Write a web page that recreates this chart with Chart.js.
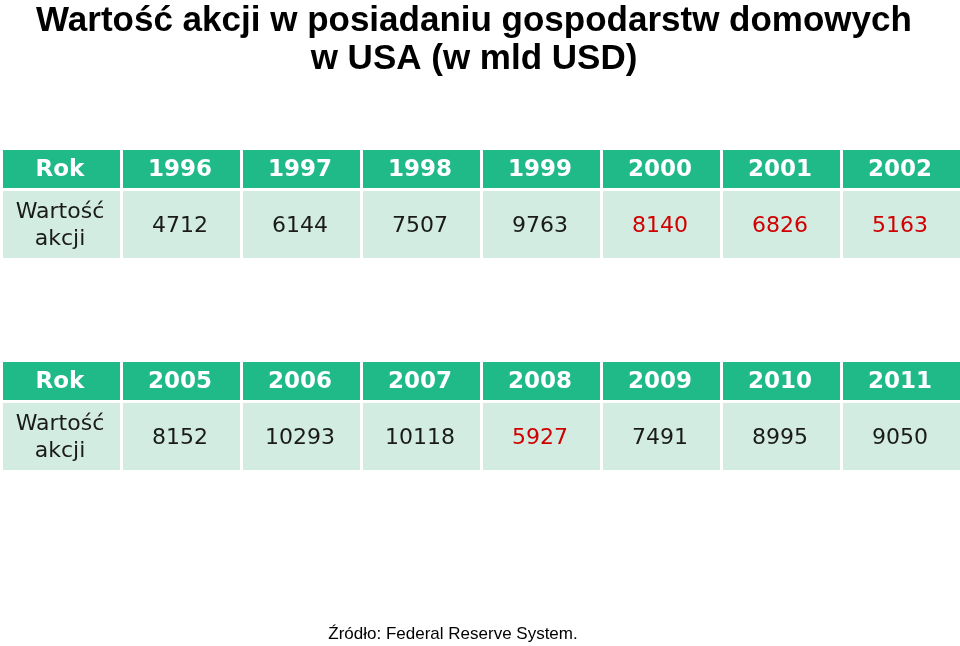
<!DOCTYPE html>
<html><head><meta charset="utf-8">
<script src="https://cdn.jsdelivr.net/npm/chart.js@4"></script>
<style>html,body{margin:0;padding:0;background:#fff}#wrap{width:960px;height:646px}</style>
</head><body><div id="wrap"><canvas id="c"></canvas></div>
<script>
const columns = ['h', 'c1', 'c2', 'c3', 'c4', 'c5', 'c6', 'c7'];
const years1 = ['1996', '1997', '1998', '1999', '2000', '2001', '2002'];
const values1 = [4712, 6144, 7507, 9763, 8140, 6826, 5163];
const red1 = [false, false, false, false, true, true, true];
const years2 = ['2005', '2006', '2007', '2008', '2009', '2010', '2011'];
const values2 = [8152, 10293, 10118, 5927, 7491, 8995, 9050];
const red2 = [false, false, false, true, false, false, false];
const rowLabel = 'Rok';
const valueLabel = ['Wartość', 'akcji'];

// draws the two tables on the category x scale (one column per category)
const tablePlugin = {
  id: 'table',
  afterDraw(chart) {
    const ctx = chart.ctx;
    const x = chart.scales.x;
    const w = 120;
    function table(top, years, values, red) {
      columns.forEach((c, i) => {
        const cx = x.getPixelForValue(i);
        ctx.fillStyle = '#1fba88';
        ctx.fillRect(cx - w / 2 + 3, top, w - 3, 38);
        ctx.fillStyle = '#d2ece1';
        ctx.fillRect(cx - w / 2 + 3, top + 41, w - 3, 67);
        ctx.textAlign = 'center';
        ctx.textBaseline = 'middle';
        ctx.fillStyle = '#ffffff';
        ctx.font = 'bold 23px "DejaVu Sans"';
        ctx.fillText(i === 0 ? rowLabel : years[i - 1], cx, top + 20);
        ctx.fillStyle = '#1a1a1a';
        ctx.font = '22px "DejaVu Sans"';
        if (i === 0) {
          ctx.fillText(valueLabel[0], cx, top + 62);
          ctx.fillText(valueLabel[1], cx, top + 89);
        } else {
          ctx.fillStyle = red[i - 1] ? '#d00000' : '#1a1a1a';
          ctx.fillText(String(values[i - 1]), cx, top + 76);
        }
      });
    }
    table(150, years1, values1, red1);
    table(362, years2, values2, red2);
    ctx.fillStyle = '#000';
    ctx.font = 'bold 35px "Liberation Sans"';
    ctx.fillText('Wartość akcji w posiadaniu gospodarstw domowych', 474, 21);
    ctx.fillText('w USA (w mld USD)', 474, 59);
    ctx.font = '17px "Liberation Sans"';
    ctx.fillText('Źródło: Federal Reserve System.', 453, 634);
  }
};

new Chart(document.getElementById('c'), {
  type: 'bar',
  data: { labels: columns, datasets: [{ data: columns.map(() => null) }] },
  options: {
    responsive: true, maintainAspectRatio: false, animation: false,
    layout: { padding: 0 },
    plugins: { legend: { display: false }, tooltip: { enabled: false } },
    scales: {
      x: { display: false, offset: true },
      y: { display: false }
    }
  },
  plugins: [tablePlugin]
});
</script></body></html>
